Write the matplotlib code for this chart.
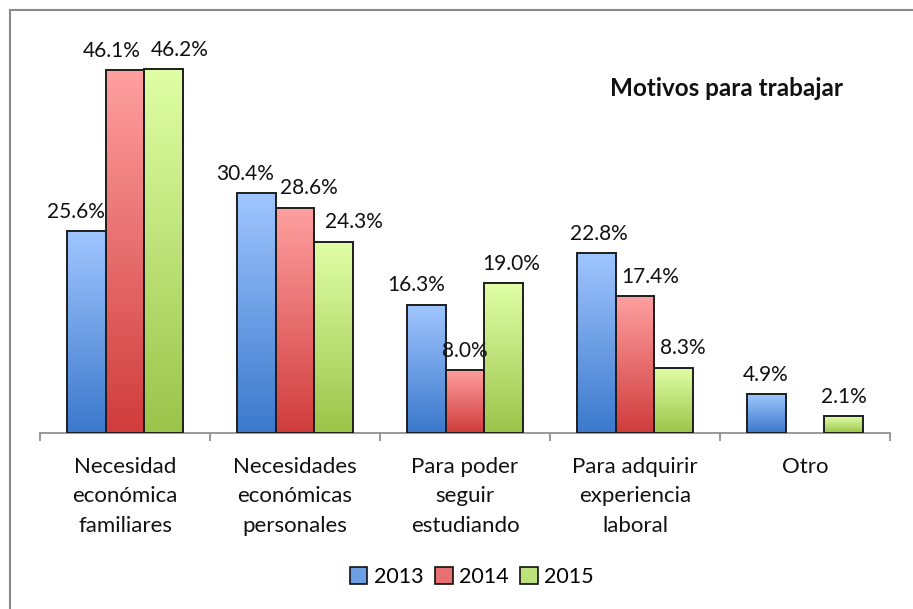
import numpy as np
import matplotlib
matplotlib.use("Agg")
import matplotlib.pyplot as plt
from matplotlib.colors import LinearSegmentedColormap
from matplotlib.patches import Patch
from matplotlib.lines import Line2D

# data
categories = ["Necesidad\neconómica\nfamiliares",
              "Necesidades\neconómicas\npersonales",
              "Para poder\nseguir\nestudiando",
              "Para adquirir\nexperiencia\nlaboral",
              "Otro"]
years = ["2013", "2014", "2015"]
v2013 = [25.6, 30.4, 16.3, 22.8, 4.9]
v2014 = [46.1, 28.6, 8.0, 17.4, np.nan]
v2015 = [46.2, 24.3, 19.0, 8.3, 2.1]
title = "Motivos para trabajar"

# gradient colours (top, bottom) per series
grads = [("#a0c6ff", "#3b78cc"), ("#ffa0a0", "#d03c3c"), ("#e0ffa6", "#9bc44a")]
mids = ["#6d9fe6", "#e87070", "#bde27a"]
# label x shifts in px so labels don't collide (like Excel does)
label_dx = [[-10, -11, -10, 3, 0],
            [-13, 14, 0, 15, 0],
            [16, 20, 7, 9, 0]]

plt.rcParams['font.family'] = ['Lato', 'DejaVu Sans']

fig = plt.figure(figsize=(9.13, 6.09), dpi=100)
ax = fig.add_axes([40 / 913, 1 - 433 / 609, 850 / 913, 394 / 609])

x = np.arange(len(categories))
w = 0.229
series = [v2013, v2014, v2015]
for i, vals in enumerate(series):
    vals = np.array(vals, dtype=float)
    mask = ~np.isnan(vals)
    pos = x[mask] + (i - 1) * w
    bars = ax.bar(pos, vals[mask], w, facecolor="none", edgecolor="#1e1e1e",
                  linewidth=1.4, zorder=3)
    cmap = LinearSegmentedColormap.from_list("g%d" % i, [grads[i][1], grads[i][0]])
    grad = np.linspace(0, 1, 256).reshape(-1, 1)
    for b in bars:
        x0, h = b.get_x(), b.get_height()
        im = ax.imshow(grad, extent=(x0, x0 + w, 0, h), origin="lower",
                       aspect="auto", cmap=cmap, zorder=2)
        im.set_clip_path(b)
    dxs = np.array(label_dx[i])[mask]
    for p, v, dx in zip(pos, vals[mask], dxs):
        ax.annotate(f"{v:.1f}%", (p, v), xytext=(dx * 0.72, 9.5),
                    textcoords="offset points", ha="center", va="baseline",
                    fontsize=15, color="#111111")

ax.set_xlim(-0.5, len(categories) - 0.5)
ax.set_ylim(0, 50)
ax.set_yticks([])
for s in ["top", "right", "left"]:
    ax.spines[s].set_visible(False)
ax.spines["bottom"].set_color("#888888")
ax.spines["bottom"].set_linewidth(1.2)
ax.spines["bottom"].set_zorder(1)

ax.set_xticks(x)
ax.set_xticklabels(categories, fontsize=16, linespacing=1.6, color="#111111")
ax.tick_params(axis="x", which="major", length=0, pad=17)
ax.set_xticks(np.arange(-0.5, len(categories)), minor=True)
ax.tick_params(axis="x", which="minor", length=6, width=1.2, color="#888888")

ax.text(0.808, 0.875, title, transform=ax.transAxes, ha="center", va="center",
        fontsize=17.5, fontweight="bold", color="#111111")

handles = [Patch(facecolor=mids[i], edgecolor="#111111", linewidth=1.2) for i in range(3)]
fig.legend(handles, years, loc="center", bbox_to_anchor=(472 / 913, 1 - 577 / 609),
           ncol=3, frameon=False, fontsize=15.5, handlelength=0.8, handleheight=0.8,
           handletextpad=0.3, columnspacing=0.55)

# partial border of the chart area (top and left edges)
fig.add_artist(Line2D([10 / 913, 10 / 913], [0, 1 - 10 / 609], color="#8a8a8a",
                      linewidth=1.5, transform=fig.transFigure))
fig.add_artist(Line2D([10 / 913, 1], [1 - 10 / 609, 1 - 10 / 609], color="#8a8a8a",
                      linewidth=1.5, transform=fig.transFigure))

fig.savefig("out.png", dpi=100)
